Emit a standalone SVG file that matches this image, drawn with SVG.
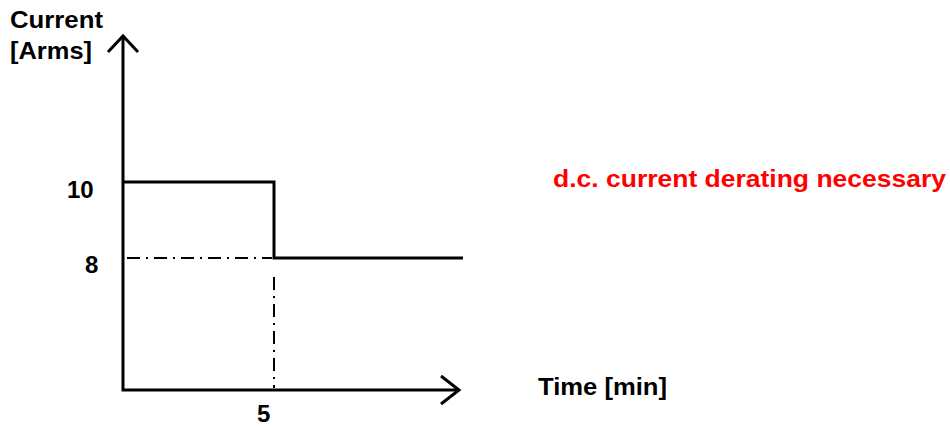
<svg xmlns="http://www.w3.org/2000/svg" width="950" height="427" viewBox="0 0 950 427">
<style>
.t{font-family:"Liberation Sans",Arial,sans-serif;font-weight:bold;font-size:24px;fill:#000}
.r{fill:#ff0000}
.ln{fill:none;stroke:#000;stroke-width:3;stroke-linejoin:miter}
.dd{fill:none;stroke:#000;stroke-width:2;stroke-dasharray:13 6 2 6}
</style>
<rect width="950" height="427" fill="#fff"/>
<g id="axes">
<path class="ln" d="M123 36 V390 H459"/>
<path class="ln" d="M108 52 L123 36 L138 52"/>
<path class="ln" d="M441 376 L459 390 L441 404"/>
</g>
<g id="connectors">
<path class="ln" d="M123 182 H274 V258 H463"/>
<path class="dd" d="M127 258 H272"/>
<path class="dd" d="M274 277 V388"/>
</g>
<g id="labels">
<text class="t" x="10" y="28" textLength="93" lengthAdjust="spacingAndGlyphs">Current</text>
<text class="t" x="10" y="59" textLength="82" lengthAdjust="spacingAndGlyphs">[Arms]</text>
<text class="t" x="67" y="198">10</text>
<text class="t" x="85" y="273">8</text>
<text class="t" x="257" y="422">5</text>
<text class="t" x="538" y="395" textLength="129" lengthAdjust="spacingAndGlyphs">Time [min]</text>
<text class="t r" x="553" y="187" textLength="393" lengthAdjust="spacingAndGlyphs">d.c. current derating necessary</text>
</g>
</svg>
